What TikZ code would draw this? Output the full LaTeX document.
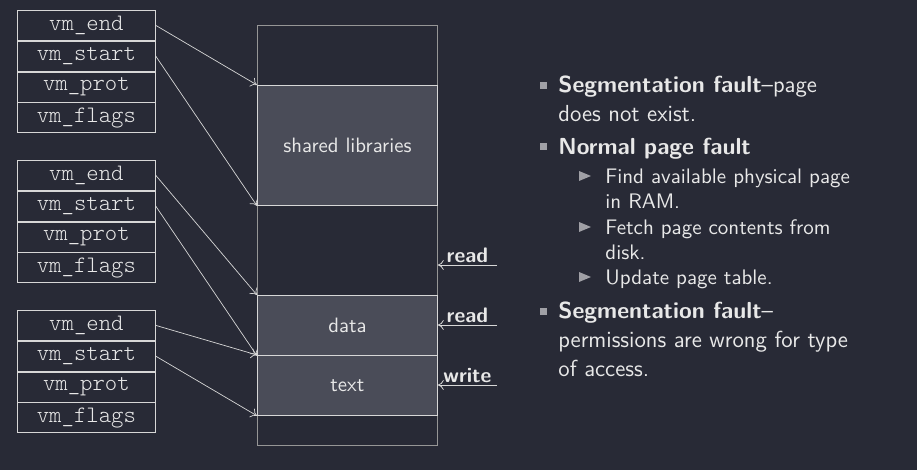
\documentclass[tikz,border=0pt]{standalone}
\usepackage{fontspec}
\newfontfamily\vmfont{lmmonolt10-regular.otf}
\usetikzlibrary{positioning,arrows.meta}

\definecolor{slidebg}{RGB}{40,42,54}
\definecolor{segfill}{RGB}{74,76,88}
\definecolor{fieldline}{RGB}{215,215,215}
\definecolor{stackline}{RGB}{150,150,150}
\definecolor{slidetext}{RGB}{232,232,232}
\definecolor{bulletgray}{RGB}{160,160,166}

\begin{document}
\begin{tikzpicture}[x=0.5pt,y=-0.5pt,font=\sffamily,text=slidetext,
    % styles
    field/.style={draw=fieldline,minimum width=69pt,minimum height=15pt,inner sep=0pt,
      font=\vmfont\fontsize{11.8}{12}\selectfont},
    stack/.style={draw=stackline,minimum width=90pt,minimum height=210pt,inner sep=0pt},
    segment/.style={draw=fieldline,fill=segfill,minimum width=90pt,inner sep=0pt,
      font=\sffamily\fontsize{10.4}{12}\selectfont},
    ptr/.style={draw=fieldline,line width=0.35pt,-{To[length=3pt,width=5pt]}},
    access/.style={draw=fieldline,thin,-{To[length=3pt,width=5pt]}},
    access label/.style={inner sep=1pt,font=\sffamily\bfseries\fontsize{10.5}{12}\selectfont},
    main item/.style={anchor=base west,inner sep=0pt,
      font=\sffamily\fontsize{11.6}{14.5}\selectfont},
    sub item/.style={anchor=base west,inner sep=0pt,
      font=\sffamily\fontsize{10.5}{12.5}\selectfont},
    item box/.style={fill=bulletgray,minimum size=3.5pt,inner sep=0pt}]

  % background
  \fill[slidebg] (0,0) rectangle (917,470);
  \useasboundingbox (0,0) rectangle (917,470);

  % vm_area_struct fields
  \foreach \g/\top in {1/10,2/160,3/310} {
    \node[field,anchor=north west] (end\g) at (17,\top) {vm\_end};
    \node[field,below=0pt of end\g] (start\g) {vm\_start};
    \node[field,below=0pt of start\g] (prot\g) {vm\_prot};
    \node[field,below=0pt of prot\g] (flags\g) {vm\_flags};
  }

  % address space
  \node[stack,anchor=north west] (stack) at (257,25) {};
  \node[segment,anchor=north west,minimum height=60pt] (shlib) at (257,85) {shared libraries};
  \node[segment,anchor=north west,minimum height=30pt] (dataseg) at (257,295) {data};
  \node[segment,anchor=north west,minimum height=30pt] (textseg) at (257,355) {text};

  % pointers
  \draw[ptr] (end1.east) -- (shlib.north west);
  \draw[ptr] (start1.east) -- (shlib.south west);
  \draw[ptr] (end2.east) -- (dataseg.north west);
  \draw[ptr] (start2.east) -- (dataseg.south west);
  \draw[ptr] (end3.east) -- (textseg.north west);
  \draw[ptr] (start3.east) -- (textseg.south west);

  % accesses
  \coordinate (acc1) at (497,265);
  \coordinate (acc2) at (497,325);
  \coordinate (acc3) at (497,385);
  \draw[access] (acc1) -- node[above,access label] {read} (acc1 -| stack.east);
  \draw[access] (acc2) -- node[above,access label] {read} (acc2 -| stack.east);
  \draw[access] (acc3) -- node[above,access label] {write} (acc3 -| stack.east);

  % bullets
  \node[item box] (box1) at (543,86) {};
  \node[item box] (box2) at (543,147) {};
  \node[item box] (box3) at (543,312) {};
  \foreach \y in {176,227,277}
    \fill[bulletgray] (579,\y-5) -- (591,\y) -- (579,\y+5) -- cycle;

  % text
  \node[main item] (fault1) at (558,93)
    {\begin{tabular}[t]{@{}l@{}}\textbf{Segmentation fault}--page\\does not exist.\end{tabular}};
  \node[main item] (normal) at (558,155) {\textbf{Normal page fault}};
  \node[sub item] (find) at (605,184)
    {\begin{tabular}[t]{@{}l@{}}Find available physical page\\in RAM.\end{tabular}};
  \node[sub item] (fetch) at (605,235)
    {\begin{tabular}[t]{@{}l@{}}Fetch page contents from\\disk.\end{tabular}};
  \node[sub item] (update) at (605,285) {Update page table.};
  \node[main item] (fault2) at (558,319)
    {\begin{tabular}[t]{@{}l@{}}\textbf{Segmentation fault}--\\permissions are wrong for type\\of access.\end{tabular}};
\end{tikzpicture}
\end{document}
